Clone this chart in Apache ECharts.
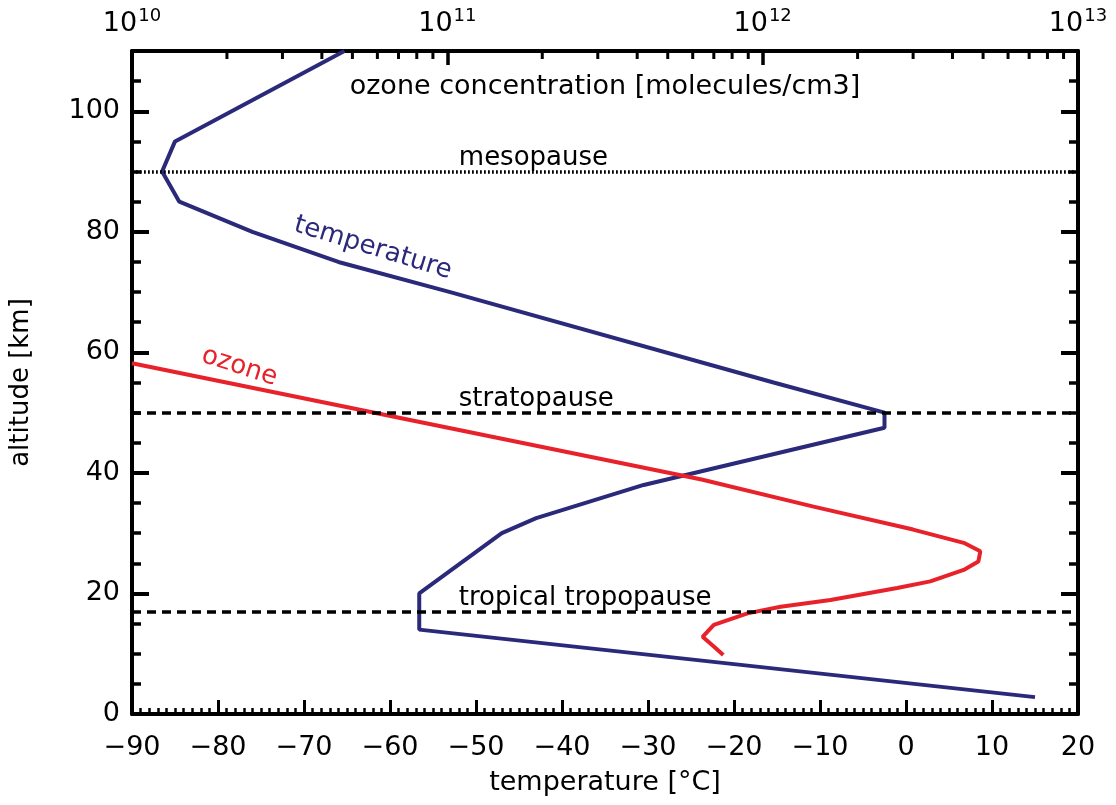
<!DOCTYPE html>
<html>
<head>
<meta charset="utf-8">
<title>temperature and ozone profile</title>
<script src="https://cdn.jsdelivr.net/npm/echarts@6/dist/echarts.min.js"></script>
<style>html,body{margin:0;background:#fff;}</style>
</head>
<body>
<div id="mainChart" style="width:1116px;height:805px;"></div>
<script type="text/javascript">
// temperature profile: degrees C against altitude in km
var tempC   = [15, -56.6, -56.6, -47, -43, -30.5, -2.5, -2.5, -15.4, -53, -66, -76, -84.5, -86.5, -85, -65.3];
var tempAlt = [2.8, 14, 20, 30, 32.5, 38, 47.5, 50, 55, 70, 75, 80, 85, 90, 95, 110];

// ozone concentration (molecules/cm3) against altitude in km
var ozoneConc = [7.5e11, 7.0e11, 6.45e11, 7.0e11, 8.95e11, 1.14e12, 1.64e12, 2.67e12, 3.4e12, 4.34e12, 4.83e12, 4.9e12, 4.34e12, 3.0e12, 1.45e12, 6.4e11, 1.0e10];
var ozoneAlt  = [9.8, 11.2, 12.8, 14.8, 16.7, 17.8, 18.9, 20.9, 22, 23.9, 25.3, 27, 28.4, 30.6, 34.4, 38.9, 58.2];

// reference levels
var levelNames = ['mesopause', 'stratopause', 'tropical tropopause'];
var levelAlt   = [90, 50, 17];
var levelTextT = -52;

// tick labels
var tempTicks = [-90, -80, -70, -60, -50, -40, -30, -20, -10, 0, 10, 20];
var altTicks  = [0, 20, 40, 60, 80, 100];
var concTicks = [1e10, 1e11, 1e12, 1e13];

var NAVY = '#2b2a7a';
var RED = '#e8222a';
var FONT = 'DejaVu Sans';

function zip(a, b) {
	var out = [];
	for (var i = 0; i < a.length; i++) out.push([a[i], b[i]]);
	return out;
}

// minor ticks of the log axis: 2..9 times each decade
var concMinor = [];
for (var d = 0; d < concTicks.length - 1; d++) {
	for (var m = 2; m <= 9; m++) concMinor.push(m * concTicks[d]);
}

var chart = echarts.init(document.getElementById('mainChart'));

var frame = { show: true, onZero: false, lineStyle: { color: '#000', width: 4 } };
var tickLong = { show: true, inside: true, length: 17, lineStyle: { color: '#000', width: 4 } };
var tickShort = { show: true, inside: true, length: 9, lineStyle: { color: '#000', width: 3.5 } };

function yAxisPair(pos, withLabels) {
	return [{
		type: 'value', position: pos, min: 0, max: 110, interval: 20,
		axisLine: frame, axisTick: tickLong, splitLine: { show: false },
		axisLabel: {
			show: withLabels, margin: 12, color: '#000', fontFamily: FONT, fontSize: 27,
			formatter: function (v) { return altTicks.indexOf(v) >= 0 ? String(v) : ''; }
		},
		name: withLabels ? 'altitude [km]' : '', nameLocation: 'middle', nameGap: 98,
		nameTextStyle: { color: '#000', fontFamily: FONT, fontSize: 26 }
	}, {
		type: 'value', position: pos, min: 0, max: 110, interval: 5,
		axisLine: { show: false, onZero: false }, axisTick: tickShort, splitLine: { show: false },
		axisLabel: { show: false }
	}];
}

var yAxes = yAxisPair('left', true).concat(yAxisPair('right', false));

var option = {
	backgroundColor: '#fff',
	animation: false,
	grid: { left: 130, right: 38, top: 51, bottom: 91, containLabel: false },
	xAxis: [{
		type: 'value', position: 'bottom', min: -90, max: 20, interval: 10,
		axisLine: frame,
		axisTick: { show: true, inside: true, length: 14, lineStyle: { color: '#000', width: 3 } },
		minorTick: { show: true, splitNumber: 10, length: 6, lineStyle: { color: '#000', width: 2.5 } },
		splitLine: { show: false }, minorSplitLine: { show: false },
		axisLabel: {
			margin: 20, color: '#000', fontFamily: FONT, fontSize: 27,
			formatter: function (v) { return tempTicks.indexOf(v) >= 0 ? String(v).replace('-', '\u2212') : ''; }
		},
		name: 'temperature [\u00B0C]', nameLocation: 'middle', nameGap: 55,
		nameTextStyle: { color: '#000', fontFamily: FONT, fontSize: 27 }
	}, {
		type: 'log', logBase: 10, position: 'top', min: 1e10, max: 1e13,
		axisLine: frame,
		axisTick: { show: true, inside: true, length: 14, lineStyle: { color: '#000', width: 3.5 } },
		splitLine: { show: false },
		axisLabel: {
			margin: 14, color: '#000',
			formatter: function (v) {
				if (concTicks.indexOf(v) < 0) return '';
				return '{b|10}{s|' + Math.round(Math.log(v) / Math.LN10) + '}';
			},
			rich: {
				b: { fontFamily: FONT, fontSize: 27, color: '#000', verticalAlign: 'bottom' },
				s: { fontFamily: FONT, fontSize: 18, color: '#000', verticalAlign: 'top', padding: [0, 0, 12, 1] }
			}
		}
	}],
	yAxis: yAxes,
	series: [{
		name: 'temperature', type: 'line', xAxisIndex: 0, yAxisIndex: 0,
		data: zip(tempC, tempAlt), symbol: 'none', clip: true,
		lineStyle: { color: NAVY, width: 4 },
		markLine: {
			silent: true, symbol: 'none', label: { show: false },
			data: [
				{ yAxis: levelAlt[0], lineStyle: { color: '#000', width: 3.5, type: [1.8, 2.2] } },
				{ yAxis: levelAlt[1], lineStyle: { color: '#000', width: 3.5, type: [9, 6] } },
				{ yAxis: levelAlt[2], lineStyle: { color: '#000', width: 3.5, type: [9, 6] } }
			]
		},
		z: 3
	}, {
		name: 'ozone', type: 'line', xAxisIndex: 1, yAxisIndex: 0,
		data: zip(ozoneConc, ozoneAlt), symbol: 'none', clip: true,
		lineStyle: { color: RED, width: 4 }, z: 3
	}, {
		name: 'log minor ticks', type: 'custom', xAxisIndex: 1, yAxisIndex: 0,
		silent: true, clip: false,
		data: concMinor,
		renderItem: function (params, api) {
			var p = api.coord([api.value(0), 110]);
			return {
				type: 'line',
				shape: { x1: p[0], y1: p[1], x2: p[0], y2: p[1] + 8 },
				style: { stroke: '#000', lineWidth: 3 }
			};
		},
		encode: { x: 0 }, z: 4
	}, {
		name: 'levels', type: 'scatter', xAxisIndex: 0, yAxisIndex: 0,
		symbolSize: 0, silent: true, itemStyle: { opacity: 1 },
		data: levelNames.map(function (n, i) { return [levelTextT, levelAlt[i], n]; }),
		label: {
			show: true, position: 'right', distance: 0, offset: [0, -13], color: '#000', fontFamily: FONT, fontSize: 26,
			formatter: function (p) { return p.value[2]; }
		}
	}, {
		name: 'texts', type: 'scatter', xAxisIndex: 0, yAxisIndex: 0,
		symbolSize: 0, silent: true, itemStyle: { opacity: 1 },
		data: [
			{ value: [-35, 104], label: { formatter: 'ozone concentration [molecules/cm3]', color: '#000', fontSize: 27 } },
			{ value: [-62, 77.3], label: { formatter: 'temperature', color: NAVY, fontSize: 26, rotate: -17 } },
			{ value: [-77.5, 57.6], label: { formatter: 'ozone', color: RED, fontSize: 26, rotate: -18 } }
		],
		label: { show: true, position: 'inside', fontFamily: FONT }
	}]
};

chart.setOption(option);
</script>
</body>
</html>
